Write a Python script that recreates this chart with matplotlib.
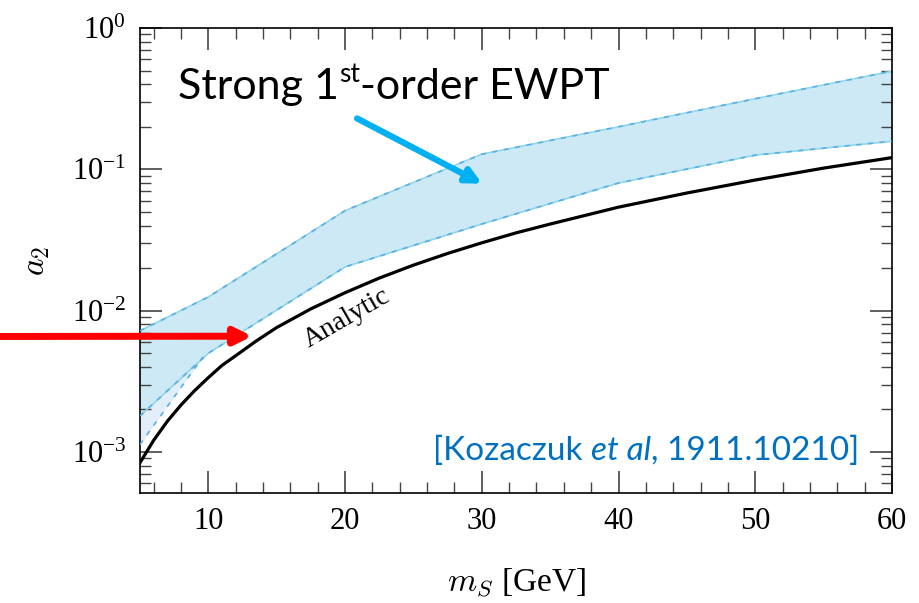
import matplotlib
matplotlib.use('Agg')
import matplotlib.pyplot as plt
from matplotlib.ticker import MultipleLocator, LogLocator, NullFormatter

# band of strong first-order EWPT
m_band = [5, 10, 20, 30, 40, 50, 60]
a2_upper = [0.0072, 0.0125, 0.051, 0.128, 0.20, 0.316, 0.495]
a2_lower = [0.0018, 0.0050, 0.0204, 0.041, 0.080, 0.126, 0.158]

# small lighter piece under the band at low mass
m_low = [5, 9.6]
a2_low_bottom = [0.00113, 0.0047]
a2_low_top = [0.0018, 0.0047]

# analytic curve
m_an = [5, 6, 7, 8, 9, 10, 11, 12, 13.5, 15, 17.5, 20, 22.5, 25, 27.5, 30,
        32.5, 35, 40, 45, 50, 55, 60]
a2_an = [0.00084, 0.00121, 0.00165, 0.00215, 0.00272, 0.00336, 0.0041, 0.0048,
         0.0061, 0.0076, 0.0103, 0.0134, 0.0170, 0.0210, 0.0254, 0.0302,
         0.0355, 0.041, 0.054, 0.068, 0.084, 0.102, 0.121]

plt.rcParams['mathtext.fontset'] = 'cm'
plt.rcParams['font.family'] = 'Liberation Serif'

fig = plt.figure(figsize=(9.19, 6.03), dpi=100)
ax = fig.add_axes([0.1523, 0.1824, 0.8183, 0.7712])

ax.fill_between(m_band, a2_lower, a2_upper, color='#cde9f5', lw=0, zorder=1)
ax.fill_between(m_low, a2_low_bottom, a2_low_top, color='#e2eef9', lw=0, zorder=1)
for yy in (a2_upper, a2_lower):
    ax.plot(m_band, yy, color='#8fd6ea', lw=1.2, zorder=2)
    ax.plot(m_band, yy, color='#5aaee6', lw=1.2, ls=(0, (3, 4)), zorder=3)
ax.plot(m_low, a2_low_bottom, color='#5aaee6', lw=1.2, ls=(0, (3, 4)), zorder=3)

ax.plot(m_an, a2_an, color='black', lw=2.3, zorder=4)

ax.set_yscale('log')
ax.set_xlim(5, 60)
ax.set_ylim(10**-3.29, 1)

ax.xaxis.set_major_locator(MultipleLocator(10))
ax.xaxis.set_minor_locator(MultipleLocator(2))
ax.yaxis.set_major_locator(LogLocator(base=10, numticks=10))
ax.yaxis.set_minor_locator(LogLocator(base=10, subs=range(2, 10), numticks=10))
ax.yaxis.set_minor_formatter(NullFormatter())
ax.tick_params(which='both', direction='in', top=True, right=True, labelsize=22, color='#444444')
ax.tick_params(which='major', length=16, width=1.2, pad=10)
ax.tick_params(which='minor', length=8, width=1.0)
for s in ax.spines.values():
    s.set_linewidth(1.2)

ax.set_xlabel('$m_S$ [GeV]', fontsize=24, labelpad=22)
ax.set_ylabel('$a_2$', fontsize=24, labelpad=14)

ax.text(20.1, 0.0089, 'Analytic', fontsize=20, rotation=30, ha='center', va='center', zorder=5)

# label built from pieces so the superscript stays sans
t1 = ax.text(0.051, 0.832, 'Strong 1', transform=ax.transAxes, fontsize=31, family='Lato',
             va='bottom', ha='left')
t2 = ax.annotate('st', xy=(1, 0.5), xycoords=t1, fontsize=19, family='Lato', va='bottom', ha='left')
fig.canvas.draw()
w2 = t2.get_window_extent().width * 72 / fig.dpi
ax.annotate('-order EWPT', xy=(1, 0), xycoords=t1, xytext=(w2, 0), textcoords='offset points',
            fontsize=31, family='Lato', va='bottom', ha='left')

ax.annotate('', xy=(30.2, 0.0775), xytext=(20.7, 0.234),
            arrowprops=dict(arrowstyle='-|>,head_width=0.45,head_length=0.9', color='#00b0f0', lw=4.5))

# citation
c1 = ax.text(0.39, 0.058, '[Kozaczuk ', transform=ax.transAxes, fontsize=24, family='Lato',
             color='#0070c0', ha='left', va='bottom')
c2 = ax.annotate('et al', xy=(1, 0), xycoords=c1, fontsize=24, family='Lato', style='italic',
                 color='#0070c0', ha='left', va='bottom')
ax.annotate(', 1911.10210]', xy=(1, 0), xycoords=c2, fontsize=24, family='Lato',
            color='#0070c0', ha='left', va='bottom')

# red arrow from outside the axes
ax.annotate('', xy=(13.2, 0.0066), xycoords='data', xytext=(0.0, 0.442),
            textcoords='figure fraction',
            arrowprops=dict(arrowstyle='-|>,head_width=0.5,head_length=1.0', color='#ff0000', lw=5,
                            shrinkA=0, shrinkB=0), annotation_clip=False)

fig.savefig('out.png', dpi=100)
